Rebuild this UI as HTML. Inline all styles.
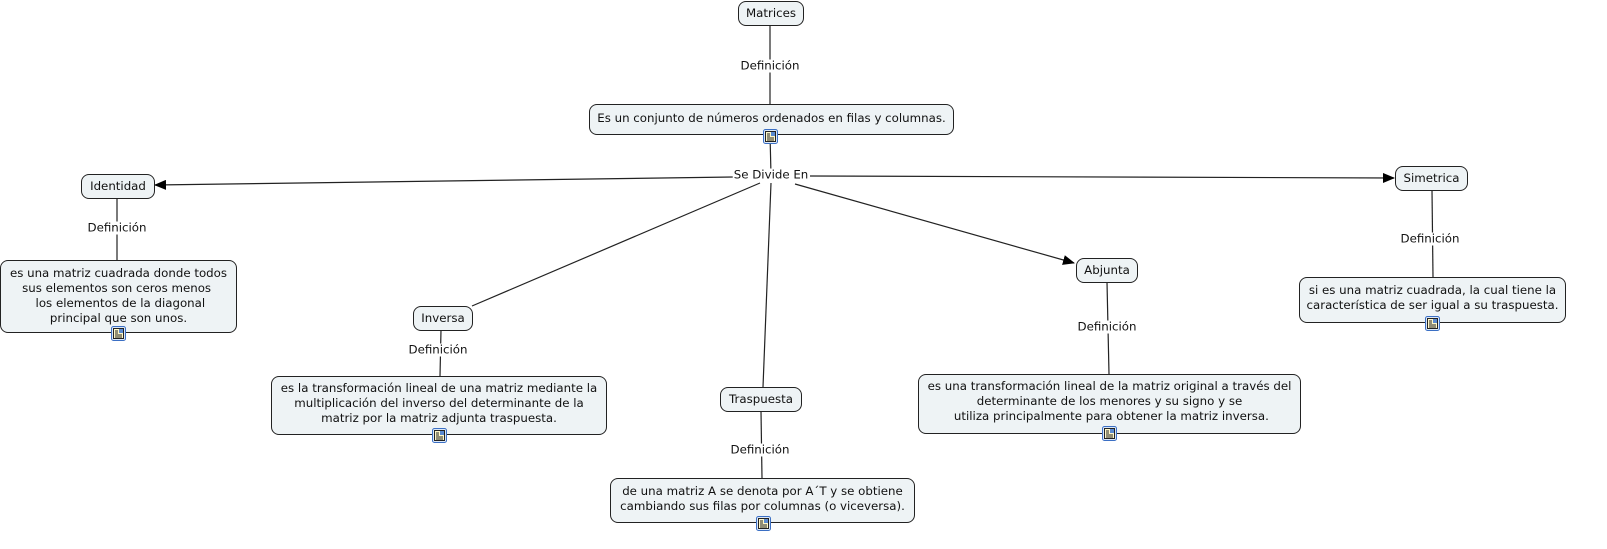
<!DOCTYPE html>
<html><head><meta charset="utf-8">
<style>
html,body{margin:0;padding:0;background:#fff;}
body{width:1607px;height:549px;position:relative;overflow:hidden;font-family:"DejaVu Sans","Liberation Sans",sans-serif;font-size:11.8px;color:#111;}
.b{position:absolute;box-sizing:border-box;border:1px solid #222;border-radius:8px;background:#eef3f5;display:flex;align-items:center;justify-content:center;text-align:center;line-height:15px;white-space:pre;}
.l{position:absolute;background:#fff;line-height:13px;transform:translate(-50%,-50%);white-space:nowrap;padding:0 1px;}
svg{position:absolute;left:0;top:0;}
.ic{position:absolute;width:15px;height:15px;}
</style></head><body>
<svg width="1607" height="549">
<defs><marker id="a" markerWidth="12" markerHeight="10" refX="11" refY="5" orient="auto" markerUnits="userSpaceOnUse"><path d="M0,0 L12,5 L0,10 z" fill="#000"/></marker></defs>
<g stroke="#222" stroke-width="1.2" fill="none">
<line x1="770" y1="25" x2="770" y2="105"/>
<line x1="770" y1="134" x2="771" y2="175"/>
<line x1="733" y1="177" x2="155" y2="185" marker-end="url(#a)"/>
<line x1="810" y1="176" x2="1394" y2="178" marker-end="url(#a)"/>
<line x1="760" y1="183" x2="472" y2="306"/>
<line x1="771" y1="183" x2="763" y2="387"/>
<line x1="795" y1="184" x2="1074" y2="263" marker-end="url(#a)"/>
<line x1="117" y1="198" x2="117" y2="260"/>
<line x1="1432" y1="190" x2="1433" y2="277"/>
<line x1="441" y1="330" x2="440" y2="376"/>
<line x1="761" y1="411" x2="762" y2="478"/>
<line x1="1107" y1="282" x2="1109" y2="374"/>
</g>
</svg>

<div class="b" style="left:738px;top:1px;width:66px;height:25px;">Matrices</div>
<div class="l" style="left:770px;top:66px;">Definición</div>
<div class="b" style="left:589px;top:104px;width:365px;height:31px;padding-bottom:2px;">Es un conjunto de números ordenados en filas y columnas.</div>
<div class="l" style="left:771px;top:175px;">Se Divide En</div>

<div class="b" style="left:81px;top:174px;width:74px;height:25px;">Identidad</div>
<div class="l" style="left:117px;top:228px;">Definición</div>
<div class="b" style="left:0px;top:260px;width:237px;height:73px;padding-bottom:2px;">es una matriz cuadrada donde todos
sus elementos son ceros menos 
 los elementos de la diagonal
principal que son unos.</div>

<div class="b" style="left:1395px;top:166px;width:73px;height:25px;">Simetrica</div>
<div class="l" style="left:1430px;top:239px;">Definición</div>
<div class="b" style="left:1299px;top:277px;width:267px;height:46px;padding-bottom:5px;">si es una matriz cuadrada, la cual tiene la
característica de ser igual a su traspuesta.</div>

<div class="b" style="left:413px;top:306px;width:60px;height:25px;">Inversa</div>
<div class="l" style="left:438px;top:350px;">Definición</div>
<div class="b" style="left:271px;top:376px;width:336px;height:59px;padding-bottom:5px;">es la transformación lineal de una matriz mediante la
multiplicación del inverso del determinante de la
matriz por la matriz adjunta traspuesta.</div>

<div class="b" style="left:720px;top:387px;width:82px;height:25px;">Traspuesta</div>
<div class="l" style="left:760px;top:450px;">Definición</div>
<div class="b" style="left:610px;top:478px;width:305px;height:45px;padding-bottom:4px;">de una matriz A se denota por A´T y se obtiene
cambiando sus filas por columnas (o viceversa).</div>

<div class="b" style="left:1076px;top:258px;width:62px;height:25px;">Abjunta</div>
<div class="l" style="left:1107px;top:327px;">Definición</div>
<div class="b" style="left:918px;top:374px;width:383px;height:60px;padding-bottom:6px;">es una transformación lineal de la matriz original a través del
determinante de los menores y su signo y se
 utiliza principalmente para obtener la matriz inversa.</div>

<svg width="0" height="0" style="position:absolute">
<defs>
<g id="icn">
<rect x="0.5" y="0.5" width="14" height="14" rx="2" fill="#dbe8f8" stroke="#3b6fc4"/>
<rect x="2.5" y="2.5" width="10" height="10" fill="#fff8c8" stroke="#222" stroke-width="1"/>
<rect x="8" y="3" width="4" height="4" fill="#5a8ad0"/>
<line x1="4" y1="5" x2="7" y2="5" stroke="#222"/>
<line x1="4" y1="7" x2="7" y2="7" stroke="#222"/>
<line x1="4" y1="9" x2="11" y2="9" stroke="#222"/>
<line x1="4" y1="11" x2="11" y2="11" stroke="#222"/>
</g>
</defs>
</svg>
<svg class="ic" style="left:763px;top:129px;" width="15" height="15"><use href="#icn"/></svg>
<svg class="ic" style="left:111px;top:326px;" width="15" height="15"><use href="#icn"/></svg>
<svg class="ic" style="left:1425px;top:316px;" width="15" height="15"><use href="#icn"/></svg>
<svg class="ic" style="left:432px;top:428px;" width="15" height="15"><use href="#icn"/></svg>
<svg class="ic" style="left:756px;top:516px;" width="15" height="15"><use href="#icn"/></svg>
<svg class="ic" style="left:1102px;top:426px;" width="15" height="15"><use href="#icn"/></svg>
</body></html>
